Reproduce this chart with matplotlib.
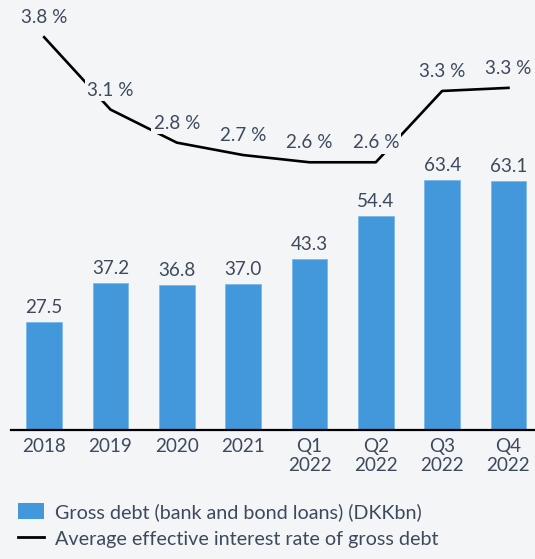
import matplotlib
matplotlib.use("Agg")
import matplotlib.pyplot as plt
from matplotlib.patches import Patch
from matplotlib.lines import Line2D

# data
periods = ["2018", "2019", "2020", "2021", "Q1\n2022", "Q2\n2022", "Q3\n2022", "Q4\n2022"]
gross_debt = [27.5, 37.2, 36.8, 37.0, 43.3, 54.4, 63.4, 63.1]
interest_rate = [3.80, 3.10, 2.78, 2.66, 2.59, 2.59, 3.28, 3.31]

bg = "#F4F5F7"
bar_color = "#4298DB"
text_color = "#3D4A5C"

plt.rcParams["font.family"] = ["Lato", "DejaVu Sans"]

fig = plt.figure(figsize=(5.35, 5.59), dpi=100, facecolor=bg)
ax = fig.add_axes([11 / 535, 1 - 430 / 559, 524 / 535, 430 / 559])
ax.set_facecolor(bg)

x = list(range(len(periods)))
bars = ax.bar(x, gross_debt, width=0.54, color=bar_color, edgecolor="#7DB8E8", linewidth=0.6, zorder=2)
for xi, v in zip(x, gross_debt):
    ax.annotate(f"{v:.1f}", (xi, v), xytext=(0, 9), textcoords="offset pixels",
                ha="center", va="baseline", fontsize=13.6, color=text_color)

ax.set_xlim(-0.5, 7.4)
ax.set_ylim(0, 109.1)
ax.set_yticks([])
ax.set_xticks(x)
ax.set_xticklabels(periods, fontsize=13.6, color=text_color, linespacing=1.15)
ax.tick_params(axis="x", length=0, pad=6)
for s in ["top", "left", "right"]:
    ax.spines[s].set_visible(False)
ax.spines["bottom"].set_linewidth(1.6)
ax.spines["bottom"].set_color("black")
ax.spines["bottom"].set_zorder(5)

ax2 = ax.twinx()
ax2.set_ylim(0, 4.16)
ax2.set_yticks([])
for s in ax2.spines.values():
    s.set_visible(False)
ax2.plot(x, interest_rate, color="black", linewidth=1.9, zorder=3, solid_joinstyle="round")
for xi, v in zip(x, interest_rate):
    ax2.annotate(f"{v:.1f} %", (xi, v), xytext=(0, 14), textcoords="offset pixels",
                 ha="center", va="baseline", fontsize=13.6, color=text_color, zorder=4,
                 bbox=dict(boxstyle="square,pad=0.12", fc=bg, ec="none"))

handles = [
    Patch(facecolor=bar_color, edgecolor="none", label="Gross debt (bank and bond loans) (DKKbn)"),
    Line2D([0], [0], color="black", linewidth=2, label="Average effective interest rate of gross debt"),
]
fig.legend(handles=handles, loc="upper left", bbox_to_anchor=(18 / 535, 1 - 503 / 559),
           frameon=False, fontsize=14.2, handlelength=1.3, handleheight=0.9,
           handletextpad=0.6, labelspacing=0.45, borderpad=0, borderaxespad=0,
           labelcolor=text_color)

fig.savefig("out.png", dpi=100, facecolor=bg)
